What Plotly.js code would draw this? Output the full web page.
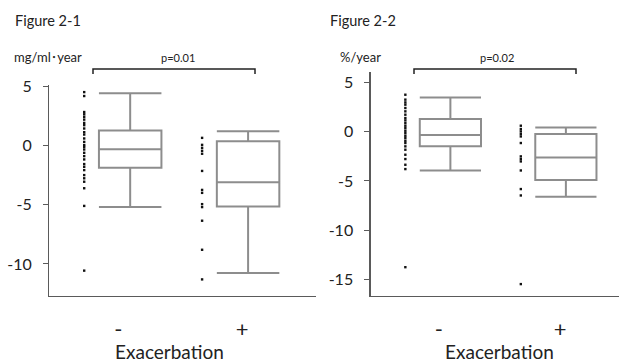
<!DOCTYPE html>
<html><head><meta charset="utf-8">
<script src="https://cdn.plot.ly/plotly-3.0.1.min.js"></script>
<style>html,body{margin:0;padding:0;background:#fff}#chart{width:619px;height:364px}</style>
</head><body><div id="chart"></div>
<script>
// ---- data ----
const groups = ["-", "+"];
const groupTitle = "Exacerbation";
// Figure 2-1 (mg/ml・year)
const fig1NegPoints = [4.5, 4.17, 2.82, 2.63, 2.41, 2.18, 1.90, 1.71, 1.43, 1.12, 0.92, 0.59, 0.30, 0.03, -0.12, -0.34, -0.62, -0.90, -1.18, -1.57, -1.80, -2.08, -2.50, -2.77, -3.06, -3.61, -5.10, -10.56];
const fig1PosPoints = [0.64, 0.05, -0.2, -0.45, -0.7, -2.15, -3.75, -4.0, -4.95, -5.2, -6.35, -8.8, -11.3];
const fig1Lower  = [-5.2, -10.76];
const fig1Q1     = [-1.88, -5.16];
const fig1Median = [-0.31, -3.11];
const fig1Q3     = [1.26, 0.36];
const fig1Upper  = [4.4, 1.2];
// Figure 2-2 (%/year)
const fig2NegPoints = [3.76, 3.26, 2.98, 2.75, 2.41, 2.07, 1.73, 1.39, 1.15, 0.88, 0.61, 0.37, 0.10, -0.14, -0.41, -0.64, -0.92, -1.15, -1.49, -1.83, -2.34, -2.78, -3.36, -3.80, -13.77];
const fig2PosPoints = [0.61, 0.27, 0.03, -0.23, -0.48, -1.15, -2.51, -2.78, -3.02, -3.94, -5.83, -6.48, -15.49];
const fig2Lower  = [-3.94, -6.61];
const fig2Q1     = [-1.49, -4.91];
const fig2Median = [-0.34, -2.61];
const fig2Q3     = [1.29, -0.24];
const fig2Upper  = [3.49, 0.44];
const yTicks1 = [5, 0, -5, -10];
const yTickText1 = ["5", "0", "-5", "-10"];
const yTicks2 = [5, 0, -5, -10, -15];
const yTickText2 = ["5", "0", "-5", "-10", "-15"];

// ---- layout helpers ----
const W = 619, H = 364;
const px = v => v / W, py = v => 1 - v / H;
const FONT = 'Lato, "Noto Sans CJK JP", sans-serif';
const boxColor = '#8d8d8d', axisColor = '#5a5a5a', txt = '#222';
const catPos = [0, 1];      // box centre positions
const dotOffset = -0.39;    // dot columns to the left of each box
const tickPos = [-0.1, 0.95];

function boxTrace(lo, q1, med, q3, up, xa, ya) {
  return {type: 'box', x: catPos, lowerfence: lo, q1: q1, median: med, q3: q3, upperfence: up,
    xaxis: xa, yaxis: ya, width: 0.53, whiskerwidth: 1, boxpoints: false,
    line: {color: boxColor, width: 2}, fillcolor: 'rgba(0,0,0,0)', hoverinfo: 'none', showlegend: false};
}
function dotTrace(vals, ci, xa, ya) {
  return {type: 'scatter', mode: 'markers', x: vals.map(() => catPos[ci] + dotOffset), y: vals,
    xaxis: xa, yaxis: ya, marker: {symbol: 'square', size: 2.4, color: '#111', line: {width: 0}},
    showlegend: false, hoverinfo: 'none', cliponaxis: false};
}

const traces = [
  boxTrace(fig1Lower, fig1Q1, fig1Median, fig1Q3, fig1Upper, 'x', 'y'),
  dotTrace(fig1NegPoints, 0, 'x', 'y'), dotTrace(fig1PosPoints, 1, 'x', 'y'),
  boxTrace(fig2Lower, fig2Q1, fig2Median, fig2Q3, fig2Upper, 'x2', 'y2'),
  dotTrace(fig2NegPoints, 0, 'x2', 'y2'), dotTrace(fig2PosPoints, 1, 'x2', 'y2')
];

const xCommon = {showline: true, linecolor: axisColor, linewidth: 1.3, showgrid: false, zeroline: false,
  ticks: '', tickmode: 'array', tickvals: tickPos, ticktext: groups, ticklabelstandoff: 13,
  tickfont: {family: FONT, size: 22, color: txt}, fixedrange: true};
const yCommon = {showline: true, linecolor: axisColor, linewidth: 1.3, showgrid: false, zeroline: false,
  ticks: 'outside', ticklen: 5, tickcolor: axisColor, tickmode: 'array', ticklabelstandoff: 8,
  tickfont: {family: FONT, size: 16, color: txt}, fixedrange: true};

const annots = [
  {text: 'Figure 2-1', x: 13, y: 20, xa: 'left', size: 14.5},
  {text: 'mg/ml･year', x: 12, y: 57, xa: 'left'},
  {text: 'p=0.01', x: 178, y: 57, xa: 'center', size: 11},
  {text: 'Figure 2-2', x: 328, y: 20, xa: 'left', size: 14.5},
  {text: '%/year', x: 338, y: 57, xa: 'left'},
  {text: 'p=0.02', x: 497, y: 57, xa: 'center', size: 11},
  {text: groupTitle, x: 169, y: 351, xa: 'center', size: 19},
  {text: groupTitle, x: 499, y: 351, xa: 'center', size: 19}
];

const layout = {
  width: W, height: H, margin: {l: 0, r: 0, t: 0, b: 0}, paper_bgcolor: '#fff', plot_bgcolor: '#fff',
  showlegend: false,
  xaxis: Object.assign({}, xCommon, {domain: [px(49.3), px(316)], range: [-0.686, 1.576], anchor: 'y'}),
  yaxis: Object.assign({}, yCommon, {domain: [py(296), py(85)], range: [-12.7, 5.1], tickvals: yTicks1, ticktext: yTickText1, anchor: 'x'}),
  xaxis2: Object.assign({}, xCommon, {domain: [px(370.7), 1], range: [-0.69, 1.46], anchor: 'y2'}),
  yaxis2: Object.assign({}, yCommon, {domain: [py(296), py(71.7)], range: [-16.7, 6.1], tickvals: yTicks2, ticktext: yTickText2, anchor: 'x2'}),
  annotations: annots.map(a => ({text: a.text, x: px(a.x), y: py(a.y), xref: 'paper', yref: 'paper',
    xanchor: a.xa, yanchor: 'middle', showarrow: false, font: {family: FONT, size: a.size || 13, color: txt}})),
  shapes: [[93, 255], [414, 576]].map(b => ({type: 'path', xref: 'paper', yref: 'paper',
    path: `M ${px(b[0])} ${py(74)} L ${px(b[0])} ${py(69)} L ${px(b[1])} ${py(69)} L ${px(b[1])} ${py(74)}`,
    line: {color: '#222', width: 1.5}}))
};

Plotly.newPlot('chart', traces, layout, {staticPlot: true, displayModeBar: false});
</script></body></html>
